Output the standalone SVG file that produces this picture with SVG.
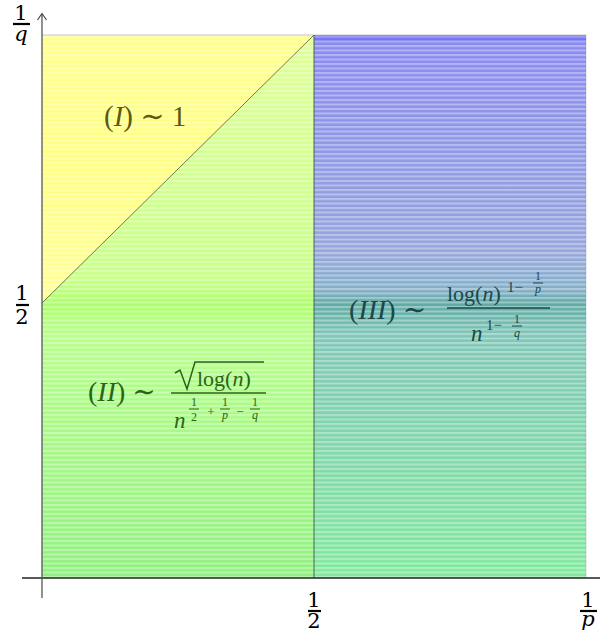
<svg xmlns="http://www.w3.org/2000/svg" width="600" height="635" viewBox="0 0 600 635">
<style>
.m{font-family:"Liberation Serif","DejaVu Serif",serif;}
.i{font-style:italic;}
.ax{font-family:"DejaVu Serif","Liberation Serif",serif;font-size:21px;fill:#000;}
.axi{font-family:"DejaVu Serif","Liberation Serif",serif;font-style:italic;font-size:21px;fill:#000;}
.bar{stroke:#000;stroke-width:2.2;}
</style>
<defs>
<pattern id="stripes" width="10" height="4.5" patternUnits="userSpaceOnUse">
<rect x="0" y="0" width="10" height="2" fill="#ffffff" opacity="0.35"/>
</pattern>
<linearGradient id="gY" x1="0" y1="35" x2="0" y2="303" gradientUnits="userSpaceOnUse">
<stop offset="0" stop-color="#ffff8c"/>
<stop offset="0.5" stop-color="#ffff80"/>
<stop offset="1" stop-color="#ffff98"/>
</linearGradient>
<linearGradient id="gG" x1="0" y1="35" x2="0" y2="578" gradientUnits="userSpaceOnUse">
<stop offset="0" stop-color="#e0ff98"/>
<stop offset="0.45" stop-color="#c8ff88"/>
<stop offset="0.495" stop-color="#acff68"/>
<stop offset="0.55" stop-color="#b8ff8a"/>
<stop offset="1" stop-color="#90f080"/>
</linearGradient>
<linearGradient id="gB" x1="0" y1="35" x2="0" y2="578" gradientUnits="userSpaceOnUse">
<stop offset="0" stop-color="#5c5cf2"/>
<stop offset="0.015" stop-color="#8a8af0"/>
<stop offset="0.4" stop-color="#96a6dc"/>
<stop offset="0.47" stop-color="#84b0c8"/>
<stop offset="0.495" stop-color="#5eaaa4"/>
<stop offset="0.55" stop-color="#80c6b8"/>
<stop offset="1" stop-color="#80ea9c"/>
</linearGradient>
</defs>

<g id="regions">
<g id="region-I">
<polygon points="42,35 314,35 42,303" fill="url(#gY)"/>
<polygon points="42,35 314,35 42,303" fill="url(#stripes)"/>
</g>
<g id="region-II">
<polygon points="42,303 314,35 314,578 42,578" fill="url(#gG)"/>
<polygon points="42,303 314,35 314,578 42,578" fill="url(#stripes)"/>
</g>
<g id="region-III">
<rect x="314" y="35" width="272" height="543" fill="url(#gB)"/>
<rect x="314" y="35" width="272" height="543" fill="url(#stripes)"/>
</g>
</g>

<g id="connectors" fill="none">
<line x1="42" y1="35" x2="586" y2="35" stroke="#c8c8c8" stroke-width="1"/>
<line x1="42" y1="303" x2="314" y2="35" stroke="#4a5a30" stroke-width="0.8"/>
<line x1="314" y1="35" x2="314" y2="578" stroke="#3a5a4a" stroke-width="0.9"/>
<line x1="586" y1="35" x2="586" y2="578" stroke="#6a8aa0" stroke-width="0.6" opacity="0.5"/>
<line x1="22" y1="578" x2="600" y2="578" stroke="#222" stroke-width="1.3"/>
<line x1="42" y1="598" x2="42" y2="14" stroke="#555" stroke-width="1.3"/>
<path d="M37.5,20 L42,13.5 L46.5,20" stroke="#444" stroke-width="1.2"/>
</g>

<g id="axis-labels">
<g id="label-1q">
<text class="ax" x="21" y="20" text-anchor="middle">1</text>
<line class="bar" x1="13" y1="24" x2="30" y2="24"/>
<text class="axi" x="21" y="41" text-anchor="middle">q</text>
</g>
<g id="label-y-half">
<text class="ax" x="22" y="300" text-anchor="middle">1</text>
<line class="bar" x1="16" y1="305" x2="29" y2="305"/>
<text class="ax" x="22" y="324" text-anchor="middle">2</text>
</g>
<g id="label-x-half">
<text class="ax" x="314" y="607" text-anchor="middle">1</text>
<line class="bar" x1="308" y1="611" x2="321" y2="611"/>
<text class="ax" x="314" y="628" text-anchor="middle">2</text>
</g>
<g id="label-1p">
<text class="ax" x="588" y="607" text-anchor="middle">1</text>
<line class="bar" x1="580" y1="611" x2="597" y2="611"/>
<text class="axi" x="588" y="626" text-anchor="middle">p</text>
</g>
</g>

<g id="label-I" class="m" fill="#5a5a10">
<text x="104" y="126" font-size="29"><tspan>(</tspan><tspan class="i">I</tspan><tspan>) ∼ 1</tspan></text>
</g>

<g id="label-II" class="m" fill="#2a6418">
<text x="88" y="401" font-size="28"><tspan>(</tspan><tspan class="i">II</tspan><tspan>) ∼</tspan></text>
<path d="M175,373 L180,370 L187,389 L195,362 L264,362" fill="none" stroke="#2a6418" stroke-width="1.5"/>
<text x="197" y="386" font-size="22">log(<tspan class="i">n</tspan>)</text>
<line x1="171" y1="393" x2="266" y2="393" stroke="#2a6418" stroke-width="1.6"/>
<text x="174" y="428" font-size="23" class="i">n</text>
<text x="194" y="406" font-size="12" text-anchor="middle">1</text>
<line x1="189" y1="409" x2="199" y2="409" stroke="#2a6418" stroke-width="1"/>
<text x="194" y="421" font-size="12" text-anchor="middle">2</text>
<text x="211" y="416" font-size="13" text-anchor="middle">+</text>
<text x="225" y="406" font-size="12" text-anchor="middle">1</text>
<line x1="220" y1="409" x2="230" y2="409" stroke="#2a6418" stroke-width="1"/>
<text x="225" y="419" font-size="12" class="i" text-anchor="middle">p</text>
<text x="240" y="416" font-size="13" text-anchor="middle">−</text>
<text x="255" y="406" font-size="12" text-anchor="middle">1</text>
<line x1="250" y1="409" x2="260" y2="409" stroke="#2a6418" stroke-width="1"/>
<text x="255" y="419" font-size="12" class="i" text-anchor="middle">q</text>
</g>

<g id="label-III" class="m" fill="#1a4848">
<text x="349" y="319" font-size="28"><tspan>(</tspan><tspan class="i">III</tspan><tspan>) ∼</tspan></text>
<text x="447" y="301" font-size="22">log(<tspan class="i">n</tspan>)</text>
<text x="507" y="292" font-size="15">1−</text>
<text x="538" y="280" font-size="12" text-anchor="middle">1</text>
<line x1="533" y1="283" x2="543" y2="283" stroke="#1a4848" stroke-width="1"/>
<text x="538" y="293" font-size="12" class="i" text-anchor="middle">p</text>
<line x1="447" y1="308" x2="550" y2="308" stroke="#1a4848" stroke-width="1.6"/>
<text x="471" y="341" font-size="23" class="i">n</text>
<text x="486" y="330" font-size="15">1−</text>
<text x="517" y="323" font-size="12" text-anchor="middle">1</text>
<line x1="512" y1="326" x2="522" y2="326" stroke="#1a4848" stroke-width="1"/>
<text x="517" y="337" font-size="12" class="i" text-anchor="middle">q</text>
</g>
</svg>
